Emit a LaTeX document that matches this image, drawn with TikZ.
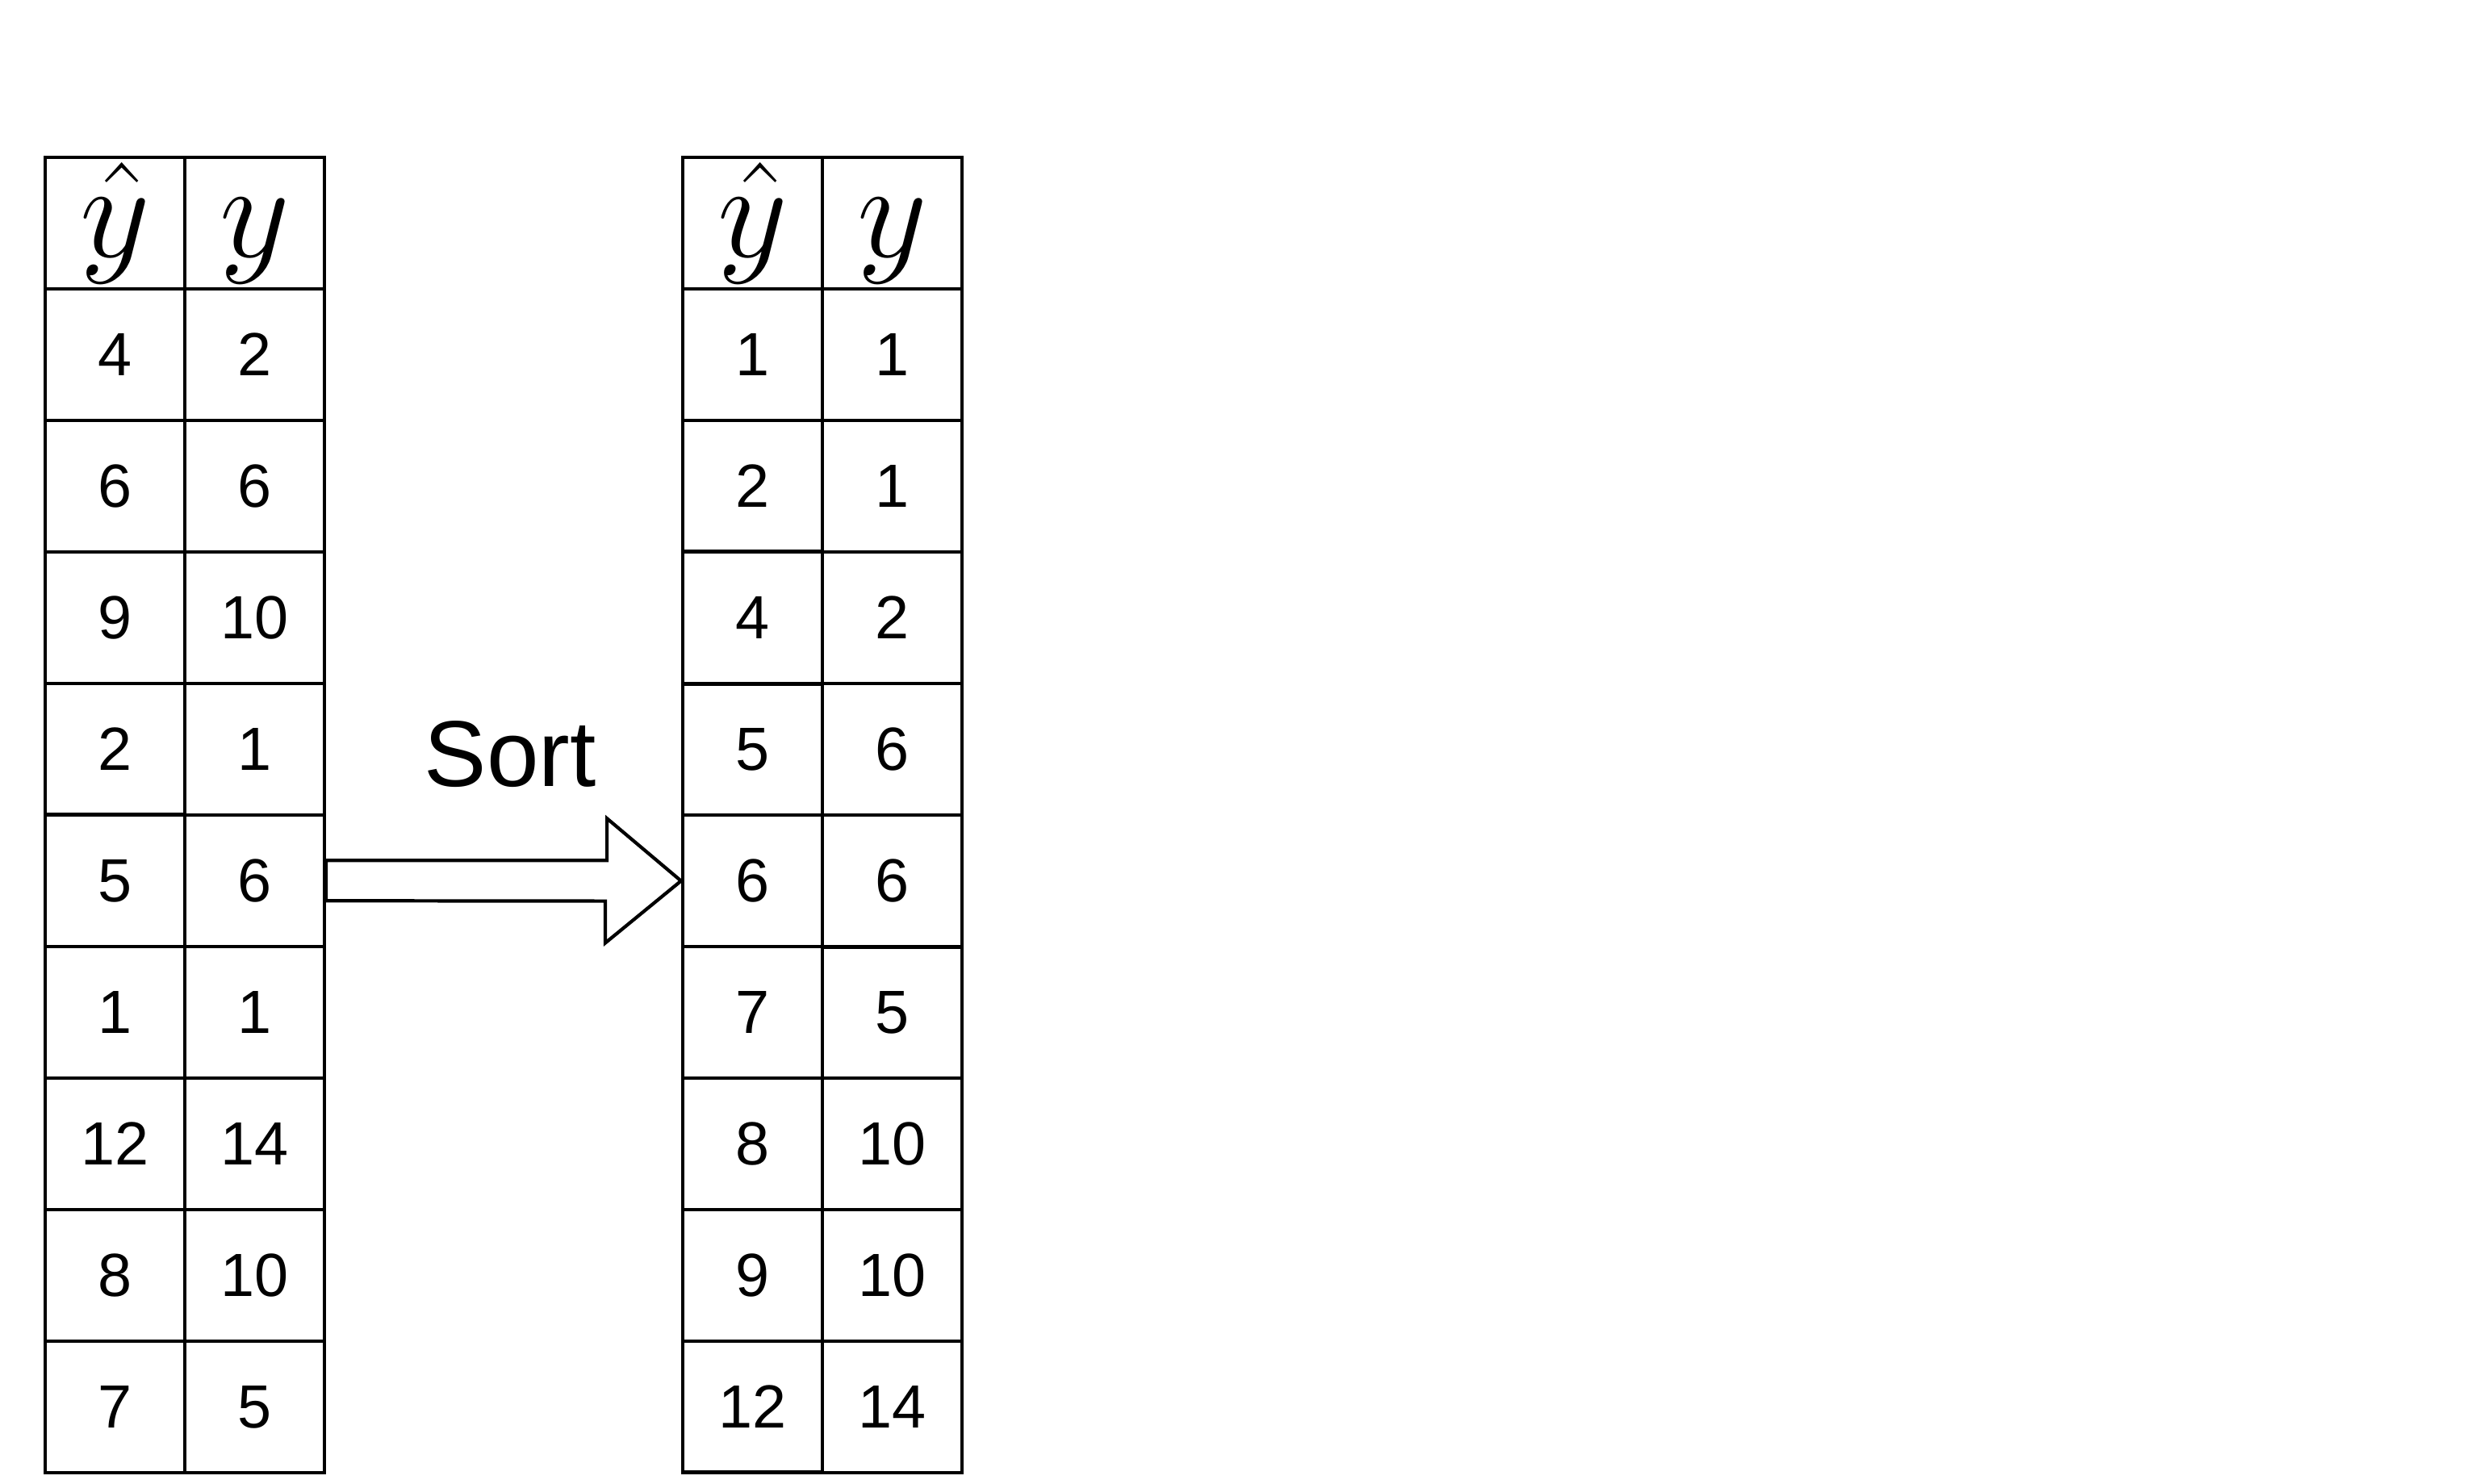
\RequirePackage{fix-cm}
\documentclass[tikz,border=0pt]{standalone}
\usepackage{amsmath}
\usepackage{fontspec}
\setmainfont{Liberation Sans}
\usetikzlibrary{positioning,matrix}

\begin{document}
\begin{tikzpicture}[line width=1.2pt,
    valtable/.style={matrix of nodes, column sep=-\pgflinewidth, row sep=-\pgflinewidth,
        nodes={draw, minimum width=1.73cm, minimum height=1.628cm, inner sep=0pt,
            font=\fontsize{21.5}{26}\selectfont},
        row 1/.style={nodes={font=\fontsize{48}{56}\selectfont}}}]
    \useasboundingbox (0,0) rectangle (30.68,-18.38);

    \matrix (unsorted)[valtable] at (2.29,-10.10)
    {
        $\hat{y}$ & $\vphantom{\hat{y}}y$ \\
        4 & 2 \\ 6 & 6 \\ 9 & 10 \\ 2 & 1 \\ 5 & 6 \\
        1 & 1 \\ 12 & 14 \\ 8 & 10 \\ 7 & 5 \\
    };
    \matrix (sorted)[valtable] at (10.19,-10.10)
    {
        $\hat{y}$ & $\vphantom{\hat{y}}y$ \\
        1 & 1 \\ 2 & 1 \\ 4 & 2 \\ 5 & 6 \\ 6 & 6 \\
        7 & 5 \\ 8 & 10 \\ 9 & 10 \\ 12 & 14 \\
    };

    \node (sort) at (6.32,-9.35) {\fontsize{33}{40}\selectfont Sort};

    \draw ([yshift=2.5mm]unsorted-6-2.east) -- ++(3.48,0) -- ++(0,0.52)
        -- (sorted-6-1.west) -- ++(-0.94,-0.77) -- ++(0,0.52)
        -- ([yshift=-2.5mm]unsorted-6-2.east) -- cycle;
\end{tikzpicture}
\end{document}
